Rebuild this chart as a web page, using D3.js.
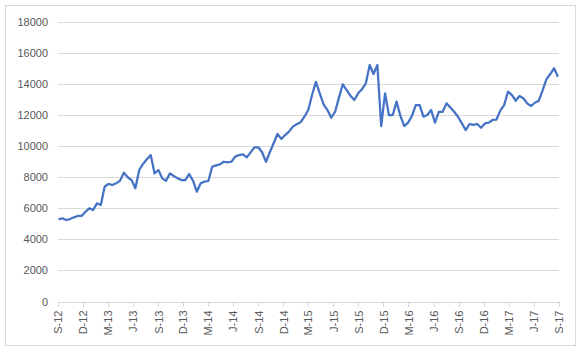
<!DOCTYPE html>
<html>
<head>
<meta charset="utf-8">
<script src="https://cdn.jsdelivr.net/npm/d3@7"></script>
<style>
  body { margin: 0; background: #fff; }
  svg { display: block; font-family: "Liberation Sans", Arial, sans-serif; }
</style>
</head>
<body>
<div class="line-chart"></div>
<script>
const width = 583;
const height = 353;
const margin = { top: 22, right: 24, bottom: 51.5, left: 58 };

/* DATA */
// one reading every 14 days, starting 3 Sep 2012
const startDate = new Date(2012, 8, 3);
const stepDays = 14;
const values = [
    5290, 5360, 5250, 5310, 5420, 5510, 5510, 5780, 6000, 5890,
    6320, 6210, 7390, 7570, 7500, 7610, 7780, 8300, 8000, 7820,
    7290, 8470, 8860, 9160, 9430, 8250, 8470, 7930, 7780, 8250,
    8080, 7930, 7820, 7820, 8210, 7780, 7070, 7610, 7720, 7760,
    8680, 8770, 8830, 9000, 8960, 9000, 9330, 9430, 9480, 9280,
    9600, 9930, 9930, 9610, 9000, 9610, 10190, 10790, 10470, 10720,
    10940, 11260, 11410, 11540, 11900, 12330, 13300, 14150, 13410, 12700,
    12330, 11840, 12220, 13130, 13990, 13620, 13250, 12980, 13410, 13670,
    14050, 15230, 14650, 15230, 11300, 13410, 12010, 12010, 12870, 11950,
    11300, 11520, 11950, 12650, 12650, 11900, 12010, 12330, 11520, 12220,
    12220, 12760, 12500, 12220, 11900, 11470, 11040, 11430, 11370, 11430,
    11190, 11470, 11520, 11690, 11720, 12290, 12650, 13510, 13300, 12930,
    13230, 13090, 12760, 12590, 12800, 12930, 13580, 14310, 14650, 15020,
    14480
];

const yTicks = [0, 2000, 4000, 6000, 8000, 10000, 12000, 14000, 16000, 18000];
const xTickLabels = [
    "S-12", "D-12", "M-13", "J-13", "S-13", "D-13", "M-14", "J-14", "S-14", "D-14",
    "M-15", "J-15", "S-15", "D-15", "M-16", "J-16", "S-16", "D-16", "M-17", "J-17", "S-17"
];

const data = values.map((v, i) => ({
    date: d3.timeDay.offset(startDate, i * stepDays),
    value: v
}));

/* SCALES */
const firstTick = new Date(2012, 8, 1);
const xScale = d3.scaleTime()
    .domain([firstTick, new Date(2017, 8, 1)])
    .range([margin.left, width - margin.right]);

const yScale = d3.scaleLinear()
    .domain([0, 18000])
    .range([height - margin.bottom, margin.top]);

// a tick every 3 months, one for each label
const tickDates = xTickLabels.map((l, i) => d3.timeMonth.offset(firstTick, i * 3));

/* SVG */
const svg = d3.select(".line-chart")
    .append("svg")
    .attr("width", width)
    .attr("height", height);

// outer chart border
svg.append("rect")
    .attr("x", 5.5)
    .attr("y", 5.5)
    .attr("width", 570)
    .attr("height", 340)
    .attr("fill", "#fff")
    .attr("stroke", "#d9d9d9");

// gridlines + y labels
const yAxis = d3.axisLeft(yScale)
    .tickValues(yTicks)
    .tickSize(-(width - margin.left - margin.right))
    .tickPadding(10)
    .tickFormat(d => d);

svg.append("g")
    .attr("class", "yAxis")
    .attr("transform", `translate(${margin.left}, 0)`)
    .call(yAxis)
    .call(g => g.select(".domain").remove())
    .call(g => g.selectAll("line")
        .attr("stroke", "#d9d9d9")
        .attr("shape-rendering", "crispEdges"))
    .call(g => g.selectAll("text")
        .attr("fill", "#595959")
        .attr("font-size", "11"));

// x axis
const xAxis = d3.axisBottom(xScale)
    .tickValues(tickDates)
    .tickSize(5)
    .tickSizeOuter(0)
    .tickFormat((d, i) => xTickLabels[i]);

svg.append("g")
    .attr("class", "xAxis")
    .attr("transform", `translate(0, ${height - margin.bottom})`)
    .call(xAxis)
    .call(g => g.select(".domain")
        .attr("stroke", "#d9d9d9")
        .attr("shape-rendering", "crispEdges"))
    .call(g => g.selectAll("line")
        .attr("stroke", "#d9d9d9")
        .attr("shape-rendering", "crispEdges"))
    .call(g => g.selectAll("text")
        .attr("fill", "#595959")
        .attr("font-size", "11")
        .attr("text-anchor", "end")
        .attr("transform", "rotate(-90)")
        .attr("x", -9)
        .attr("y", 0)
        .attr("dy", "0.35em"));

/* LINE */
const lineFunction = d3.line()
    .x(d => xScale(d.date))
    .y(d => yScale(d.value));

svg.append("path")
    .datum(data)
    .attr("class", "line")
    .attr("fill", "none")
    .attr("stroke", "#4472c4")
    .attr("stroke-width", 2.25)
    .attr("stroke-linejoin", "round")
    .attr("d", lineFunction);
</script>
</body>
</html>
